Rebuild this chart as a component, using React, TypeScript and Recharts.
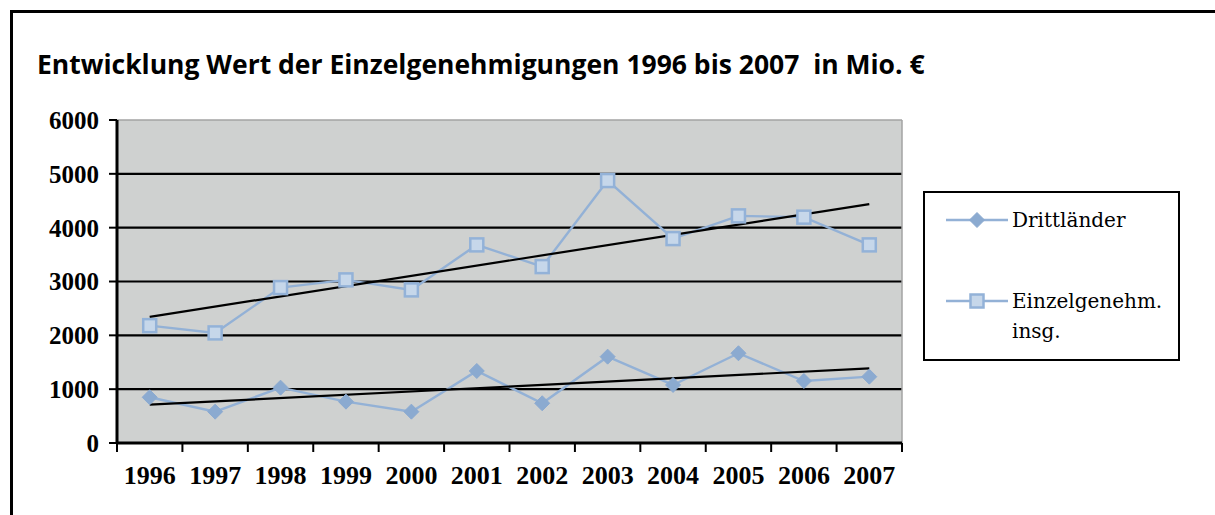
import React from 'react';
import {
  LineChart,
  Line,
  XAxis,
  YAxis,
  CartesianGrid,
} from 'recharts';

// Werte (Mio. €)
const years = ['1996', '1997', '1998', '1999', '2000', '2001', '2002', '2003', '2004', '2005', '2006', '2007'];
const drittlaender = [849, 582, 1028, 768, 582, 1338, 738, 1604, 1078, 1667, 1152, 1232];
const einzelgenehm = [2180, 2045, 2887, 3030, 2844, 3680, 3277, 4875, 3797, 4219, 4195, 3680];
// lineare Trendlinien: Wert am Anfang (1996) und Ende (2007)
const drittTrend = [712, 1387];
const einzelTrend = [2343, 4437];
const yTicks = [0, 1000, 2000, 3000, 4000, 5000, 6000];
const gridValues = [1000, 2000, 3000, 4000, 5000];

const W = 1215;
const H = 515;
const PLOT_LEFT = 117;
const PLOT_RIGHT = 902;
const PLOT_TOP = 120;
const PLOT_BOTTOM = 443;
const BAND = (PLOT_RIGHT - PLOT_LEFT) / years.length;

const LINE_COLOR = '#93b1d6';
const DIAMOND_FILL = '#8baad0';
const SQUARE_FILL = '#c6d7ea';
const SQUARE_STROKE = '#93b2d8';

const data = years.map((year, i) => ({
  year,
  dritt: drittlaender[i],
  einzel: einzelgenehm[i],
  drittTrend: i === 0 ? drittTrend[0] : i === years.length - 1 ? drittTrend[1] : null,
  einzelTrend: i === 0 ? einzelTrend[0] : i === years.length - 1 ? einzelTrend[1] : null,
}));

const Diamond = (props: any) => {
  const { cx, cy } = props;
  if (cx == null || cy == null) return null;
  const r = 7.5;
  return (
    <path
      d={`M${cx},${cy - r}L${cx + r},${cy}L${cx},${cy + r}L${cx - r},${cy}Z`}
      fill={DIAMOND_FILL}
      stroke={DIAMOND_FILL}
      strokeWidth={1}
    />
  );
};

const Square = (props: any) => {
  const { cx, cy } = props;
  if (cx == null || cy == null) return null;
  const s = 13;
  return (
    <rect
      x={cx - s / 2}
      y={cy - s / 2}
      width={s}
      height={s}
      fill={SQUARE_FILL}
      stroke={SQUARE_STROKE}
      strokeWidth={2.5}
    />
  );
};

const XTick = (props: any) => {
  const { x, payload, index } = props;
  const last = index === years.length - 1;
  return (
    <g>
      <line x1={x - BAND / 2} x2={x - BAND / 2} y1={PLOT_BOTTOM} y2={PLOT_BOTTOM + 9} stroke="#000" strokeWidth={2} />
      {last && (
        <line x1={x + BAND / 2} x2={x + BAND / 2} y1={PLOT_BOTTOM} y2={PLOT_BOTTOM + 9} stroke="#000" strokeWidth={2} />
      )}
      <text
        x={x}
        y={PLOT_BOTTOM + 41}
        textAnchor="middle"
        fontFamily="'Liberation Serif', serif"
        fontWeight="bold"
        fontSize={26}
        fill="#000"
      >
        {payload.value}
      </text>
    </g>
  );
};

export default function App() {
  return (
    <div style={{ position: 'relative', width: W, height: H, overflow: 'hidden', background: '#fff' }}>
      <style>{'body{margin:0}'}</style>
      {/* Rahmen (nur oben und links sichtbar) */}
      <div
        style={{
          position: 'absolute',
          left: 10,
          top: 10,
          width: 1400,
          height: 700,
          borderLeft: '3px solid #000',
          borderTop: '3px solid #000',
        }}
      />
      <div
        style={{
          position: 'absolute',
          left: 37,
          top: 49,
          fontFamily: "'Open Sans', sans-serif",
          fontWeight: 'bold',
          fontSize: 26.5,
          lineHeight: '30px',
          whiteSpace: 'pre',
          color: '#000',
        }}
      >
        {'Entwicklung Wert der Einzelgenehmigungen 1996 bis 2007  in Mio. €'}
      </div>

      <div style={{ position: 'absolute', left: 0, top: 0 }}>
        <LineChart
          width={W}
          height={H}
          data={data}
          margin={{ top: PLOT_TOP, right: W - PLOT_RIGHT, left: 0, bottom: 22 }}
        >
          <CartesianGrid
            vertical={false}
            horizontalValues={gridValues}
            stroke="#000"
            strokeWidth={2.2}
            fill="#cfd1d0"
            fillOpacity={1}
          />
          {/* grauer Rahmen oben und rechts */}
          <CartesianGrid
            horizontalValues={[6000]}
            verticalCoordinatesGenerator={({ offset }: any) => [offset.left + offset.width]}
            stroke="#a3a3a3"
            strokeWidth={1.5}
          />
          <XAxis
            dataKey="year"
            height={H - PLOT_BOTTOM - 22}
            padding={{ left: BAND / 2, right: BAND / 2 }}
            axisLine={{ stroke: '#000', strokeWidth: 3 }}
            tickLine={false}
            tick={<XTick />}
            interval={0}
          />
          <YAxis
            width={PLOT_LEFT}
            domain={[0, 6000]}
            ticks={yTicks}
            axisLine={{ stroke: '#000', strokeWidth: 3 }}
            tickLine={{ stroke: '#000', strokeWidth: 2 }}
            tickSize={8}
            tickMargin={10}
            tick={{ fontFamily: "'Liberation Serif', serif", fontWeight: 'bold', fontSize: 25, fill: '#000' }}
          />
          <Line
            dataKey="dritt"
            stroke={LINE_COLOR}
            strokeWidth={2.4}
            dot={<Diamond />}
            activeDot={false}
            isAnimationActive={false}
          />
          <Line
            dataKey="einzel"
            stroke={LINE_COLOR}
            strokeWidth={2.4}
            dot={<Square />}
            activeDot={false}
            isAnimationActive={false}
          />
          <Line
            dataKey="drittTrend"
            stroke="#000"
            strokeWidth={2.2}
            dot={false}
            activeDot={false}
            connectNulls
            isAnimationActive={false}
          />
          <Line
            dataKey="einzelTrend"
            stroke="#000"
            strokeWidth={2.2}
            dot={false}
            activeDot={false}
            connectNulls
            isAnimationActive={false}
          />
        </LineChart>
      </div>

      {/* Legende */}
      <div
        style={{
          position: 'absolute',
          left: 923,
          top: 191,
          width: 257,
          height: 170,
          boxSizing: 'border-box',
          border: '2px solid #000',
          background: '#fff',
          fontFamily: "'DejaVu Serif', serif",
          fontSize: 20,
          color: '#000',
        }}
      >
        <svg style={{ position: 'absolute', left: 21, top: 16 }} width={62} height={22}>
          <line x1={0} x2={62} y1={11} y2={11} stroke={LINE_COLOR} strokeWidth={2.4} />
          <Diamond cx={31} cy={11} />
        </svg>
        <div style={{ position: 'absolute', left: 87, top: 12, lineHeight: '30px' }}>Drittländer</div>
        <svg style={{ position: 'absolute', left: 21, top: 97 }} width={62} height={22}>
          <line x1={0} x2={62} y1={11} y2={11} stroke={LINE_COLOR} strokeWidth={2.4} />
          <Square cx={31} cy={11} />
        </svg>
        <div style={{ position: 'absolute', left: 87, top: 93, lineHeight: '30px' }}>
          Einzelgenehm.
          <br />
          insg.
        </div>
      </div>
    </div>
  );
}
